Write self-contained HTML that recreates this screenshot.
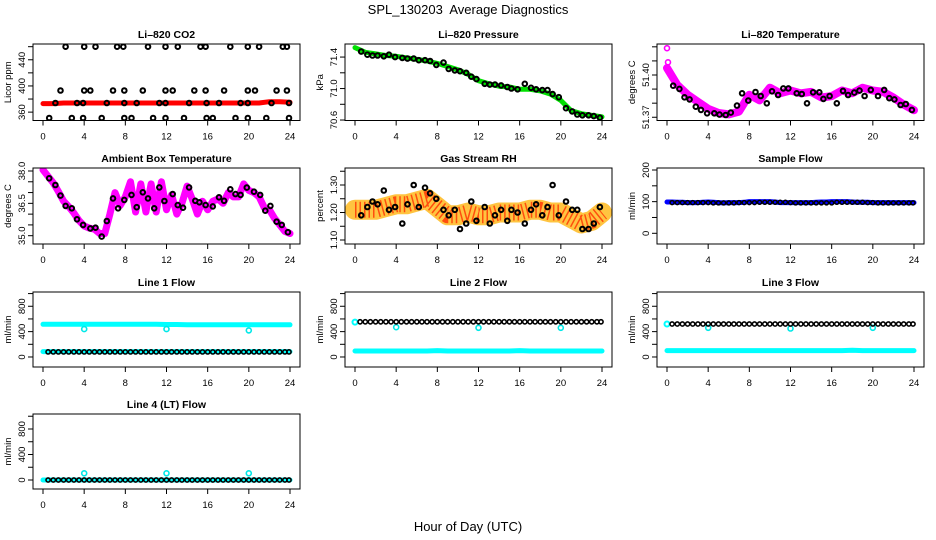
<!DOCTYPE html>
<html><head><meta charset="utf-8">
<style>
html,body{margin:0;padding:0;background:#fff;}
svg{display:block;font-family:"Liberation Sans",Arial,sans-serif;}
</style></head>
<body>
<svg id="chart" width="936" height="540" viewBox="0 0 936 540" xmlns="http://www.w3.org/2000/svg">
<rect x="0" y="0" width="936" height="540" fill="#fff"/>
<text x="468" y="14" font-size="13" text-anchor="middle" xml:space="preserve">SPL_130203  Average Diagnostics</text>
<text x="468" y="531" font-size="13" text-anchor="middle">Hour of Day (UTC)</text>
</svg>
<script>
// ---------- shared hours ----------
const hours25 = [0,1,2,3,4,5,6,7,8,9,10,11,12,13,14,15,16,17,18,19,20,21,22,23,24];
const hours49 = [0,0.5,1,1.5,2,2.5,3,3.5,4,4.5,5,5.5,6,6.5,7,7.5,8,8.5,9,9.5,10,10.5,11,11.5,12,12.5,13,13.5,14,14.5,15,15.5,16,16.5,17,17.5,18,18.5,19,19.5,20,20.5,21,21.5,22,22.5,23,23.5,24];
const blackHours = [0.6,1.2,1.7,2.2,2.8,3.3,3.9,4.6,5.1,5.7,6.2,6.8,7.3,7.9,8.6,9.1,9.7,10.2,10.8,11.3,11.8,12.6,13.1,13.6,14.2,14.8,15.2,15.8,16.5,17.1,17.6,18.2,18.7,19.2,19.8,20.5,21.1,21.6,22.1,22.7,23.2,23.8];
const flatHours = [0.5,1,1.5,2,2.5,3,3.5,4,4.5,5,5.5,6,6.5,7,7.5,8,8.5,9,9.5,10,10.5,11,11.5,12,12.5,13,13.5,14,14.5,15,15.5,16,16.5,17,17.5,18,18.5,19,19.5,20,20.5,21,21.5,22,22.5,23,23.5,23.9];
const xTicks = [0,4,8,12,16,20,24];

// ---------- Li-820 CO2 ----------
const co2BandValues = [373,373,374,374,374,374,374,374,374,374,374,374,374,374,374,374,374,374,374,374,374,374,376,376,375];
const co2PointHours = [2.2,4.0,5.1,7.2,7.8,10.2,11.9,13.1,15.3,15.8,18.2,19.9,21.0,23.3,23.7,
  1.7,4.0,4.6,6.8,7.9,9.7,11.9,12.6,14.7,15.8,17.6,19.9,20.6,22.7,23.7,
  1.2,3.3,3.9,6.2,7.9,9.1,11.3,11.9,14.2,15.9,17.1,19.2,19.9,22.2,23.9,
  0.6,2.8,3.9,5.7,7.9,8.6,10.7,11.9,13.7,15.9,16.5,18.7,19.9,21.7,23.9];
const co2PointValues = [460,460,460,460,460,460,460,460,460,460,460,460,460,460,460,
  393,393,393,393,393,393,393,393,393,393,393,393,393,393,393,
  374,374,374,374,374,374,374,374,374,374,374,374,374,374,374,
  351,351,351,351,351,351,351,351,351,351,351,351,351,351,351];
const co2Ticks = [360,380,400,420,440,460];
const co2Labels = ["360","","400","","440",""];

// ---------- Li-820 Pressure ----------
const presBandValues = [71.52,71.46,71.44,71.42,71.41,71.39,71.37,71.35,71.32,71.28,71.24,71.18,71.10,71.06,71.03,71.02,70.99,70.99,70.97,70.93,70.85,70.72,70.68,70.66,70.64];
const presPointValues = [71.47,71.43,71.42,71.42,71.41,71.43,71.40,71.39,71.38,71.38,71.36,71.36,71.35,71.30,71.33,71.25,71.23,71.22,71.20,71.15,71.12,71.06,71.05,71.05,71.04,71.02,71.00,70.99,71.06,71.01,70.99,70.98,70.98,70.93,70.89,70.75,70.71,70.67,70.66,70.66,70.65,70.63];
const presTicks = [70.6,70.8,71.0,71.2,71.4];
const presLabels = ["70.6","","71.0","","71.4"];

// ---------- Li-820 Temperature ----------
const tempBandValues = [51.405,51.393,51.386,51.381,51.376,51.373,51.372,51.374,51.386,51.382,51.391,51.387,51.389,51.387,51.388,51.384,51.385,51.389,51.387,51.391,51.389,51.388,51.384,51.379,51.375];
const tempPointValues = [51.3924,51.3901,51.3842,51.3827,51.3775,51.3752,51.3728,51.3728,51.3719,51.3716,51.3733,51.3783,51.3870,51.3818,51.3879,51.3851,51.3799,51.3884,51.3858,51.3905,51.3905,51.3870,51.3865,51.3799,51.3877,51.3877,51.3830,51.3851,51.3799,51.3887,51.3858,51.3875,51.3889,51.3851,51.3894,51.3851,51.3894,51.3835,51.3827,51.3787,51.3794,51.3752];
const tempOutlierHours = [0,0.1];
const tempOutlierValues = [51.419,51.409];
const tempTicks = [51.37,51.38,51.39,51.40,51.41,51.42];
const tempLabels = ["51.37","","","51.40","",""];

// ---------- Ambient Box Temperature ----------
const ambBandValues = [38.05,37.75,37.45,37.05,36.6,36.35,36.05,35.7,35.45,35.35,35.3,35.1,35.1,36.0,37.0,36.4,36.8,37.5,36.1,37.4,36.1,37.4,36.1,37.5,36.2,36.9,36.0,36.5,37.3,36.7,36.0,36.6,36.2,36.6,36.7,36.5,37.0,36.8,36.8,37.4,37.1,37.0,36.8,36.3,36.2,35.8,35.5,35.2,35.1];
const ambPointValues = [37.66,37.35,36.86,36.38,36.27,35.76,35.50,35.34,35.37,34.96,35.68,36.73,36.27,36.66,36.89,36.32,37.01,36.73,36.27,37.24,36.61,36.93,36.42,36.30,37.24,36.62,36.55,36.42,36.36,36.78,36.62,37.15,36.93,36.89,37.23,37.04,36.89,36.16,36.38,35.65,35.50,35.16];
const ambTicks = [35.0,35.5,36.0,36.5,37.0,37.5,38.0];
const ambLabels = ["35.0","","","36.5","","","38.0"];

// ---------- Gas Stream RH ----------
const rhBandValues = [1.21,1.21,1.21,1.22,1.23,1.23,1.24,1.25,1.22,1.19,1.19,1.20,1.19,1.19,1.20,1.20,1.20,1.21,1.21,1.20,1.20,1.18,1.16,1.17,1.20];
const rhPointValues = [1.19,1.22,1.24,1.23,1.28,1.21,1.22,1.16,1.23,1.30,1.22,1.29,1.27,1.25,1.21,1.19,1.21,1.14,1.16,1.24,1.17,1.22,1.16,1.19,1.21,1.17,1.21,1.20,1.16,1.21,1.23,1.19,1.22,1.30,1.19,1.24,1.21,1.21,1.14,1.14,1.16,1.22];
const rhTicks = [1.10,1.15,1.20,1.25,1.30,1.35];
const rhLabels = ["1.10","","1.20","","1.30",""];

// ---------- Sample Flow ----------
const sampleBandValues = [99,99,98,98,97,97,97,98,99,98,97,96,97,97,97,98,100,100,100,100,100,99,97,97,97,97,97,97,97,98,99,99,100,100,100,100,99,98,98,98,97,97,97,97,97,97,97,97,97];
const samplePointValues = [97,97,97,97,97,97,97,97,96,96,96,96,96,97,97,97,97,98,98,98,98,98,98,97,96,96,96,96,96,96,96,96,98,98,98,98,98,98,97,97,96,96,96,96,96,96,96,96];
const sampleTicks = [0,50,100,150,200];
const sampleLabels = ["0","","100","","200"];

// ---------- Line flows ----------
const flowTicks = [0,200,400,600,800,1000];
const flowLabels = ["0","","400","","800",""];
const outlierHours = [4,12,20];

const line1HighBand = [515,515,515,515,515,515,515,515,515,515,515,515,512,512,510,510,510,510,510,510,510,508,508,508,508];
const line1LowBand = [85,85,85,85,85,85,85,85,85,85,85,85,85,85,85,85,85,85,85,85,85,85,85,85,85];
const line1PointValues = [80,80,80,80,80,80,80,80,80,80,80,80,80,80,80,80,80,80,80,80,80,80,80,80,80,80,80,80,80,80,80,80,80,80,80,80,80,80,80,80,80,80,80,80,80,80,80,80];
const line1Outliers = [440,440,420];

const line2Band = [95,95,95,95,95,95,95,95,100,95,95,95,95,95,95,95,100,95,95,95,95,95,95,95,95];
const line2PointValues = [555,555,555,555,555,555,555,555,555,555,555,555,555,555,555,555,555,555,555,555,555,555,555,555,555,555,555,555,555,555,555,555,555,555,555,555,555,555,555,555,555,555,555,555,555,555,555,555];
const line2Outliers = [470,460,460];
const line2Start = [550];

const line3Band = [100,100,100,100,100,100,100,100,100,100,100,100,100,100,100,100,100,100,105,100,100,100,100,100,100];
const line3PointValues = [520,520,520,520,520,520,520,520,520,520,520,520,520,520,520,520,520,520,520,520,520,520,520,520,520,520,520,520,520,520,520,520,520,520,520,520,520,520,520,520,520,520,520,520,520,520,520,520];
const line3Outliers = [460,450,460];
const line3Start = [520];

const line4Band = [0,0,0,0,0,0,0,0,0,0,0,0,0,0,0,0,0,0,0,0,0,0,0,0,0];
const line4PointValues = [0,0,0,0,0,0,0,0,0,0,0,0,0,0,0,0,0,0,0,0,0,0,0,0,0,0,0,0,0,0,0,0,0,0,0,0,0,0,0,0,0,0,0,0,0,0,0,0];
const line4Outliers = [105,105,105];

// ---------- drawing ----------
const NS = "http://www.w3.org/2000/svg";
const svg = document.getElementById("chart");
const COLL = [33,345,657], COLR = [300,612,924], X0 = [43,355,667], X24 = [290,602,914];
const ROWT = [44,168,292,414], ROWB = [120.5,244,367,489];

function mk(parent, tag, attrs){
  const e = document.createElementNS(NS, tag);
  for (const k in attrs) e.setAttribute(k, attrs[k]);
  parent.appendChild(e);
  return e;
}

let clipId = 0;
function makePanel(id, title, ylab, col, row, ymin, ymax, ticks, labels){
  const L = COLL[col], R = COLR[col], T = ROWT[row], B = ROWB[row];
  const x0 = X0[col], x24 = X24[col];
  const g = mk(svg, "g", {});
  
  
  const xs = h => x0 + h * (x24 - x0) / 24;
  const ys = v => B - (v - ymin) / (ymax - ymin) * (B - T);
  clipId++;
  const cp = mk(g, "clipPath", {id: "cp" + clipId});
  mk(cp, "rect", {x: L, y: T, width: R - L, height: B - T});
  const plot = mk(g, "g", {"clip-path": "url(#cp" + clipId + ")"});
  
  
  const tt = mk(g, "text", {x: (L + R) / 2, y: T - 6, "font-size": 10.5, "font-weight": "bold", "text-anchor": "middle"});
  tt.textContent = title;
  
  
  const yl = mk(g, "text", {x: 0, y: 0, "font-size": 9.5, "text-anchor": "middle", transform: "translate(" + (L - 22) + "," + ((T + B) / 2) + ") rotate(-90)"});
  yl.textContent = ylab;
  
  
  xTicks.forEach(h => {
    const x = xs(h);
    const tk = mk(g, "line", {x1: x, y1: B, x2: x, y2: B + 5, stroke: "#000", "stroke-width": 1});
    
    
    const tl = mk(g, "text", {x: x, y: B + 19, "font-size": 9.5, "text-anchor": "middle"});
    tl.textContent = String(h);
    
    
  });
  ticks.forEach((v, i) => {
    const y = ys(v);
    const tk = mk(g, "line", {x1: L - 5, y1: y, x2: L, y2: y, stroke: "#000", "stroke-width": 1});
    
    
    if (labels[i]) {
      const tl = mk(g, "text", {x: 0, y: 0, "font-size": 9.5, "text-anchor": "middle", transform: "translate(" + (L - 8) + "," + y + ") rotate(-90)"});
      tl.textContent = labels[i];
      
      
    }
  });
  const box = mk(g, "rect", {x: L, y: T, width: R - L, height: B - T, fill: "none", stroke: "#000", "stroke-width": 1});
  
  
  return {plot, xs, ys, id};
}

function band(p, hrs, vals, color, w, extra){
  const pts = hrs.map((h, i) => p.xs(h).toFixed(1) + "," + p.ys(vals[i]).toFixed(1)).join(" ");
  const a = {points: pts, fill: "none", stroke: color, "stroke-width": w, "stroke-linejoin": "round", "stroke-linecap": "round"};
  if (extra) for (const k in extra) a[k] = extra[k];
  const e = mk(p.plot, "polyline", a);
  
  
}
function points(p, hrs, vals, color, r, sw){
  hrs.forEach((h, i) => {
    const c = mk(p.plot, "circle", {cx: p.xs(h).toFixed(1), cy: p.ys(vals[i]).toFixed(1), r: r || 2.3, fill: "none", stroke: color || "#000", "stroke-width": sw || 2});
    
    
  });
}

// Row 1
let p = makePanel("co2", "Li\u2013820 CO2", "Licor ppm", 0, 0, 347.2, 464.1, co2Ticks, co2Labels);
band(p, hours25, co2BandValues, "#ff0000", 5);
points(p, co2PointHours, co2PointValues, "#000");

p = makePanel("pressure", "Li\u2013820 Pressure", "kPa", 1, 0, 70.594, 71.566, presTicks, presLabels);
band(p, hours25, presBandValues, "#00e000", 5);
points(p, blackHours, presPointValues, "#000");

p = makePanel("li820-temp", "Li\u2013820 Temperature", "degrees C", 2, 0, 51.3677, 51.4220, tempTicks, tempLabels);
band(p, hours25, tempBandValues, "#ff00ff", 8);
points(p, tempOutlierHours, tempOutlierValues, "#ff00ff", 2.5, 1.6);
points(p, blackHours, tempPointValues, "#000");

// Row 2
p = makePanel("ambient-temp", "Ambient Box Temperature", "degrees C", 0, 1, 34.615, 38.139, ambTicks, ambLabels);
band(p, hours49, ambBandValues, "#ff00ff", 7);
points(p, blackHours, ambPointValues, "#000");

p = makePanel("gas-rh", "Gas Stream RH", "percent", 1, 1, 1.0855, 1.3618, rhTicks, rhLabels);
band(p, hours25, rhBandValues, "#ffb000", 20, {"stroke-opacity": 0.75});
band(p, hours25, rhBandValues, "#ff3000", 16, {"stroke-dasharray": "1.5 3", "stroke-linecap": "butt", "stroke-opacity": 0.8});
points(p, blackHours, rhPointValues, "#000");

p = makePanel("sample-flow", "Sample Flow", "ml/min", 2, 1, -33.8, 206.3, sampleTicks, sampleLabels);
band(p, hours49, sampleBandValues, "#0000ff", 5);
points(p, flatHours, samplePointValues, "#000", 2, 1.5);

// Row 3
p = makePanel("line1-flow", "Line 1 Flow", "ml/min", 0, 2, -158, 1025, flowTicks, flowLabels);
band(p, hours25, line1HighBand, "#00ffff", 5);
band(p, hours25, line1LowBand, "#00ffff", 5);
points(p, outlierHours, line1Outliers, "#00e8e8", 2.5, 1.6);
points(p, flatHours, line1PointValues, "#000", 2.1, 1.6);

p = makePanel("line2-flow", "Line 2 Flow", "ml/min", 1, 2, -158, 1025, flowTicks, flowLabels);
band(p, hours25, line2Band, "#00ffff", 5);
points(p, [0], line2Start, "#00ffff", 2.5, 2);
points(p, outlierHours, line2Outliers, "#00e8e8", 2.5, 1.6);
points(p, flatHours, line2PointValues, "#000", 2.1, 1.6);

p = makePanel("line3-flow", "Line 3 Flow", "ml/min", 2, 2, -158, 1025, flowTicks, flowLabels);
band(p, hours25, line3Band, "#00ffff", 5);
points(p, [0], line3Start, "#00ffff", 2.5, 2);
points(p, outlierHours, line3Outliers, "#00e8e8", 2.5, 1.6);
points(p, flatHours, line3PointValues, "#000", 2.1, 1.6);

// Row 4
p = makePanel("line4-flow", "Line 4 (LT) Flow", "ml/min", 0, 3, -141, 1035, flowTicks, flowLabels);
band(p, hours25, line4Band, "#00ffff", 5);
points(p, outlierHours, line4Outliers, "#00e8e8", 2.5, 1.6);
points(p, flatHours, line4PointValues, "#000", 2.1, 1.6);
</script>
</body></html>
